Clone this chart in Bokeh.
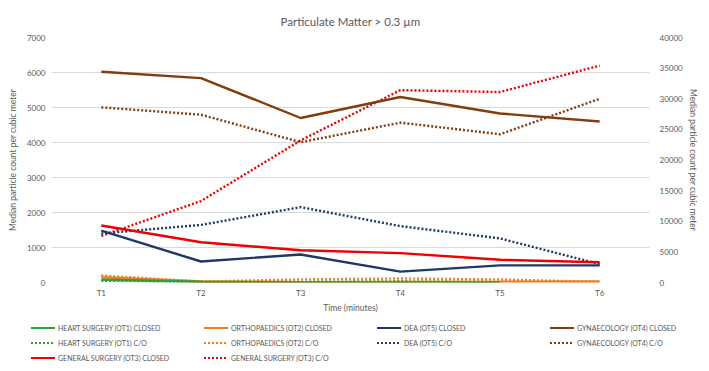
import math
from bokeh.plotting import figure
from bokeh.layouts import column
from bokeh.models import Range1d, LinearAxis, FixedTicker, ColumnDataSource, Div
from bokeh.embed import file_html
from bokeh.resources import INLINE

nan = float("nan")
times = ["T1", "T2", "T3", "T4", "T5", "T6"]
left_ticks = [0, 1000, 2000, 3000, 4000, 5000, 6000, 7000]
right_ticks = [0, 5000, 10000, 15000, 20000, 25000, 30000, 35000, 40000]

# closed series (left axis)
heart_closed = [80, 20, 5, 5, 0, nan]
ortho_closed = [150, 30, 10, 15, 20, 30]
dea_closed = [1480, 600, 800, 310, 490, 490]
gyn_closed = [6020, 5840, 4700, 5300, 4830, 4600]
gen_closed = [1630, 1150, 920, 840, 650, 580]

# C/O series (right axis)
heart_co = [300, 50, 100, 200, 100, nan]
ortho_co = [1140, 160, 500, 650, 500, 100]
dea_co = [8000, 9400, 12300, 9200, 7200, 3000]
gyn_co = [28600, 27400, 22900, 26100, 24200, 30000]
gen_co = [7600, 13300, 23200, 31400, 31100, 35400]

GREEN = "#2e9e3e"
ORANGE = "#f07c22"
NAVY = "#1f3864"
BROWN = "#833c0b"
RED = "#ee0000"
GRAY = "#595959"
FONT = "Lato"

p = figure(x_range=times, frame_width=598, frame_height=245, output_backend="svg",
           toolbar_location=None, y_range=Range1d(0, 7000),
           min_border_left=51, min_border_right=46, min_border_top=37, min_border_bottom=28)
p.extra_y_ranges = {"right": Range1d(0, 40000)}

p.title.text = "Particulate Matter > 0.3 \u00b5m"
p.title.align = "center"
p.title.text_font = FONT
p.title.text_font_size = "11.5px"
p.title.text_font_style = "normal"
p.title.text_color = GRAY
p.title.standoff = 19
p.title.offset = 10

p.outline_line_color = None
p.xgrid.grid_line_color = None
p.ygrid.grid_line_color = "#d9d9d9"
p.ygrid.ticker = FixedTicker(ticks=left_ticks)

raxis = LinearAxis(y_range_name="right", ticker=FixedTicker(ticks=right_ticks),
                   axis_label="Median particle count per cubic meter")
p.add_layout(raxis, "right")

p.yaxis[0].ticker = FixedTicker(ticks=left_ticks)
p.yaxis[0].axis_label = "Median particle count per cubic meter"
p.xaxis.axis_label = "Time (minutes)"

for ax in [p.xaxis[0], p.yaxis[0], raxis]:
    ax.axis_line_color = None
    ax.major_tick_line_color = None
    ax.minor_tick_line_color = None
    ax.major_tick_out = 0
    ax.major_tick_in = 0
    ax.minor_tick_out = 0
    ax.minor_tick_in = 0
    ax.major_label_text_font = FONT
    ax.major_label_text_font_size = "8px"
    ax.major_label_text_color = GRAY
    ax.axis_label_text_font = FONT
    ax.axis_label_text_font_size = "8.5px"
    ax.axis_label_text_font_style = "normal"
    ax.axis_label_text_color = GRAY
p.yaxis[0].major_label_standoff = 6
p.yaxis[0].axis_label_standoff = 6
raxis.major_label_standoff = 10
raxis.axis_label_standoff = 2
p.xaxis[0].major_label_standoff = 5
p.xaxis[0].axis_label_standoff = 2

def add(vals, color, dotted, right):
    src = ColumnDataSource(dict(x=times, y=vals))
    kw = dict(line_color=color, line_width=2.4)
    if dotted:
        kw["line_dash"] = "2 2"
    if right:
        kw["y_range_name"] = "right"
    return p.line("x", "y", source=src, **kw)

add(gyn_co, BROWN, True, True)
add(gen_co, RED, True, True)
add(dea_co, NAVY, True, True)
add(ortho_co, ORANGE, True, True)
add(heart_co, GREEN, True, True)
add(gyn_closed, BROWN, False, False)
add(dea_closed, NAVY, False, False)
add(gen_closed, RED, False, False)
add(ortho_closed, ORANGE, False, False)
add(heart_closed, GREEN, False, False)

# legend strip as HTML (row-major, 4 columns)
legend_entries = [
    ("HEART SURGERY (OT1) CLOSED", GREEN, False), ("ORTHOPAEDICS (OT2) CLOSED", ORANGE, False),
    ("DEA (OT5) CLOSED", NAVY, False), ("GYNAECOLOGY (OT4) CLOSED", BROWN, False),
    ("HEART SURGERY (OT1) C/O", GREEN, True), ("ORTHOPAEDICS (OT2) C/O", ORANGE, True),
    ("DEA (OT5) C/O", NAVY, True), ("GYNAECOLOGY (OT4) C/O", BROWN, True),
    ("GENERAL SURGERY (OT3) CLOSED", RED, False), ("GENERAL SURGERY (OT3) C/O", RED, True),
]
parts = []
for i, (lab, c, dotted) in enumerate(legend_entries):
    col, row = i % 4, i // 4
    x0 = 31 + 173 * col
    yc = 13 + 15 * row
    if dotted:
        bg = f"repeating-linear-gradient(to right, {c} 0px, {c} 2px, transparent 2px, transparent 4px)"
    else:
        bg = c
    parts.append(
        f'<div style="position:absolute;left:{x0}px;top:{yc - 1.2}px;width:24px;height:2.4px;background:{bg};"></div>'
        f'<div style="position:absolute;left:{x0 + 27}px;top:{yc - 7.5}px;height:15px;line-height:15px;'
        f'white-space:nowrap;">{lab}</div>'
    )
html = (f'<div style="position:relative;width:693px;height:52px;font-family:Lato;'
        f'font-size:7px;color:{GRAY};">' + "".join(parts) + "</div>")
lg = Div(text=html, width=693, height=52, margin=0)

layout = column(p, lg, spacing=0)
open("out.html", "w").write(file_html(layout, INLINE))
